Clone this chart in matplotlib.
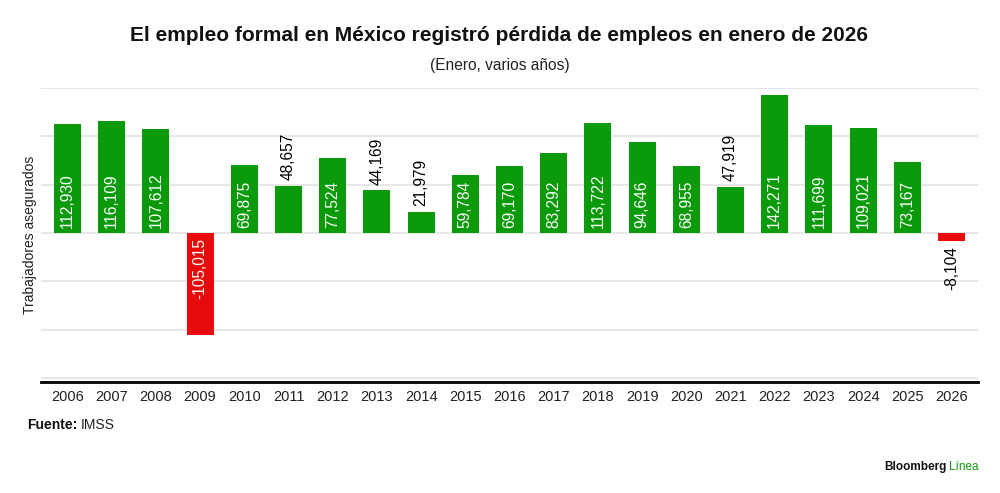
import matplotlib.pyplot as plt
import numpy as np

years = [str(y) for y in range(2006, 2027)]
empleos = [112930, 116109, 107612, -105015, 69875, 48657, 77524, 44169, 21979,
           59784, 69170, 83292, 113722, 94646, 68955, 47919, 142271, 111699,
           109021, 73167, -8104]

plt.rcParams['font.family'] = ['Liberation Sans', 'DejaVu Sans']

GREEN = '#0a9a0a'
RED = '#e60a0a'

fig = plt.figure(figsize=(10, 4.93), dpi=100)
ax = fig.add_axes([0.041, 0.2252, 0.937, 0.5963])

x = np.arange(len(years))
colors = [GREEN if v >= 0 else RED for v in empleos]
ax.bar(x, empleos, width=0.61, color=colors, zorder=3)

ax.set_xlim(-0.6, len(years) - 0.4)
ax.set_ylim(-154000, 150000)
ax.set_yticks([-150000, -100000, -50000, 0, 50000, 100000, 150000])
ax.set_yticklabels([])
ax.grid(axis='y', color='#e2e2e2', linewidth=1.2, zorder=0)
ax.tick_params(axis='both', length=0)
ax.tick_params(axis='x', pad=6, labelsize=10.5, labelcolor='#222222')
ax.set_xticks(x)
ax.set_xticklabels(years)
for s in ['top', 'right', 'left']:
    ax.spines[s].set_visible(False)
ax.spines['bottom'].set_linewidth(2)
ax.spines['bottom'].set_color('black')

fig.text(0.030, 0.523, 'Trabajadores asegurados', rotation=90, ha='center',
         va='center', fontsize=10, color='#222222')

# etiquetas de valor
for xi, v in zip(x, empleos):
    txt = f'{v:,}'
    off = 5200
    if abs(v) > 55000:
        if v > 0:
            ax.text(xi, off, txt, rotation=90, ha='center', va='bottom',
                    color='white', fontsize=11.2, zorder=4)
        else:
            ax.text(xi, -off, txt, rotation=90, ha='center', va='top',
                    color='white', fontsize=11.2, zorder=4)
    else:
        if v > 0:
            ax.text(xi, v + 6000, txt, rotation=90, ha='center', va='bottom',
                    color='black', fontsize=11.2, zorder=4)
        else:
            ax.text(xi, v - 5000, txt, rotation=90, ha='center', va='top',
                    color='black', fontsize=11.2, zorder=4)

fig.text(0.499, 0.927, 'El empleo formal en México registró pérdida de empleos en enero de 2026',
         ha='center', va='center', fontsize=15, fontweight='bold', color='#111111')
fig.text(0.5, 0.868, '(Enero, varios años)', ha='center', va='center',
         fontsize=11.2, color='#222222')

t = fig.text(0.027, 0.138, 'Fuente:', ha='left', va='center', fontsize=10,
             fontweight='bold', color='#111111')
fig.canvas.draw()
bb = t.get_window_extent()
fig.text((bb.x1 + 3) / 1000, 0.138, 'IMSS', ha='left', va='center', fontsize=10,
         color='#222222')

t2 = fig.text(0.979, 0.052, 'Línea', ha='right', va='center', fontsize=8.5,
              color=GREEN)
fig.canvas.draw()
bb2 = t2.get_window_extent()
fig.text((bb2.x0 - 3) / 1000, 0.052, 'Bloomberg', ha='right', va='center',
         fontsize=8.5, fontweight='bold', color='#111111')

fig.savefig('out.png', dpi=100)
